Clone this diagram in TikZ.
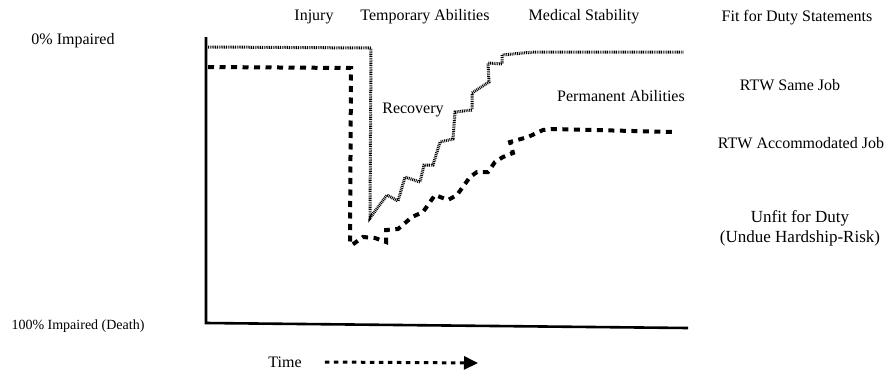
\documentclass[tikz,border=0pt]{standalone}
\usepackage{fontspec}
\setmainfont{Liberation Serif}
\usetikzlibrary{arrows.meta}

\begin{document}
\begin{tikzpicture}[x=1pt, y=-1pt,
    every node/.style={font=\fontsize{16}{19}\selectfont},
    lbl/.style={inner sep=1pt},
    axisline/.style={line width=2.6pt},
    templine/.style={line width=3pt, dash pattern=on 0.9pt off 0.9pt},
    permline/.style={line width=4pt, dash pattern=on 6pt off 5.5pt},
    timearrow/.style={line width=3pt, dash pattern=on 4.5pt off 4.5pt, -{Triangle[length=14pt,width=13pt]}}]
    \useasboundingbox (0,0) rectangle (890,370);

    % axes
    \coordinate (ytop) at (206,37);
    \coordinate (origin) at (206,323);
    \coordinate (xend) at (688,328);
    \draw[axisline] (ytop) -- (origin) -- (xend);

    % level labels on the left
    \node[lbl] (nil) at (73,41) {0\% Impaired};
    \node[lbl, font=\fontsize{14}{17}\selectfont] (full) at (78,326) {100\% Impaired (Death)};

    % phase labels along the top
    \node[lbl] (injury) at (314,17) {Injury};
    \node[lbl] (temp) at (425,17) {Temporary Abilities};
    \node[lbl] (stable) at (584,17) {Medical Stability};
    \node[lbl] (recovery) at (413,110) {Recovery};
    \node[lbl] (perm) at (621,96) {Permanent Abilities};

    % fit for duty statements on the right
    \node[lbl] (fit) at (797,18) {Fit for Duty Statements};
    \node[lbl] (same) at (790,85) {RTW Same Job};
    \node[lbl] (accom) at (801,143) {RTW Accommodated Job};
    \node[lbl, align=center, font=\fontsize{17}{20}\selectfont] (unfit) at (800,228) {Unfit for Duty\\(Undue Hardship-Risk)};

    % temporary abilities curve
    \draw[templine] (208,47) -- (371,48) -- (370,218) -- (387,195) -- (398,201)
        -- (405,177) -- (420,182) -- (424,165) -- (433,165) -- (440,142)
        -- (453,139) -- (455,112) -- (472,110) -- (472,93) -- (489,82)
        -- (488,63) -- (502,64) -- (502,55) -- (523,53) -- (535,52) -- (684,52);

    % permanent abilities curve
    \draw[permline] (208,67) -- (351,68) -- (350,243) -- (352,245) -- (363,237)
        -- (375,238) -- (386,242) -- (386,230) -- (398,229) -- (412,217)
        -- (423,212) -- (435,195) -- (448,200) -- (457,195) -- (470,177)
        -- (477,172) -- (488,172) -- (495,162) -- (503,157) -- (513,153)
        -- (510,142) -- (528,137) -- (543,130) -- (553,129) -- (673,132);

    % time arrow
    \node[lbl] (time) at (285,362) {Time};
    \coordinate (timeend) at (478,363);
    \draw[timearrow] ([xshift=22pt]time.east) -- (timeend);
\end{tikzpicture}
\end{document}
